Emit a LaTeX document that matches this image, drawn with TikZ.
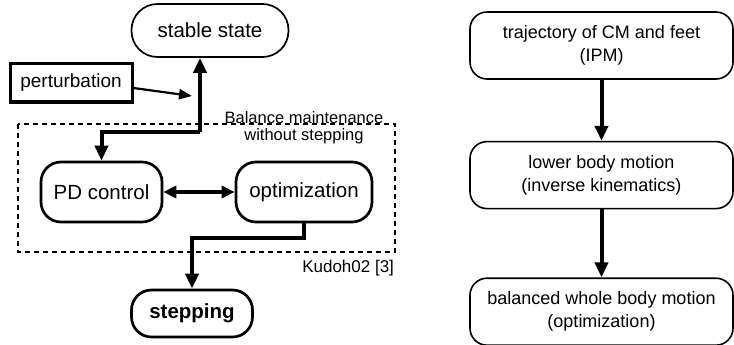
\documentclass[tikz,border=0pt]{standalone}
\usepackage{fontspec}
\setmainfont{Liberation Sans}
\usetikzlibrary{arrows.meta,positioning}

\begin{document}
\begin{tikzpicture}[x=1pt,y=-1pt,
  big/.style={font=\fontsize{20.5}{24}\selectfont},
  mid/.style={font=\fontsize{18}{23}\selectfont},
  small/.style={font=\fontsize{16.5}{17}\selectfont},
  state/.style={draw,line width=2.7pt,rounded corners=20pt,big,inner sep=0pt},
  stage/.style={draw,line width=1.6pt,rounded corners=17pt,mid,align=center,inner sep=0pt,
    minimum width=263pt,minimum height=67pt},
  flow/.style={line width=4pt,-{Triangle[length=15pt,width=13pt]}},
  node distance=61pt]
\useasboundingbox (0,0) rectangle (734,345);

\node[state,line width=1.7pt,rounded corners=26pt,minimum width=157pt,minimum height=53pt] (stable) at (210,30.5) {stable state};
\node[draw,line width=3pt,font=\fontsize{19}{22}\selectfont,minimum width=122pt,minimum height=38pt] (pert) at (71,83) {perturbation};
\node[state,minimum width=121pt,minimum height=60pt] (pd) at (101.5,192) {PD control};
\node[state,minimum width=136pt,minimum height=60pt] (opt) at (304,192) {optimization};
\node[state,font=\fontsize{20.5}{24}\selectfont\bfseries,minimum width=121pt,minimum height=47pt] (step) at (192,313.5) {stepping};

\draw[line width=2.7pt,dash pattern=on 5pt off 4pt] (18,124) rectangle (395,252);
\node[small,align=center] (balance) at (304,128) {Balance maintenance\\without stepping};
\node[font=\fontsize{17}{20}\selectfont,anchor=east] (kudoh) at (397.5,268) {Kudoh02 [3]};

\coordinate (split) at (200,132);
\coordinate (hit) at (192,96);
\draw[line width=2.2pt,-{Triangle[length=13pt,width=10pt]}] ([yshift=-5pt]pert.east) -- (hit);
\draw[flow] (split) -- (split |- stable.south);
\draw[flow] (split) -| (pd.north);
\draw[line width=4pt,{Triangle[length=13pt,width=12pt]}-{Triangle[length=13pt,width=12pt]}] (pd) -- (opt);
\draw[flow] (opt.south) -- ++(0,15) -| (step.north);

\node[stage] (traj) at (601.5,45.5) {trajectory of CM and feet\\(IPM)};
\node[stage,below=of traj] (lower) {lower body motion\\(inverse kinematics)};
\node[stage,below=68pt of lower] (whole) {balanced whole body motion\\(optimization)};

\draw[flow] (traj) -- (lower);
\draw[flow] (lower) -- (whole);
\end{tikzpicture}
\end{document}
